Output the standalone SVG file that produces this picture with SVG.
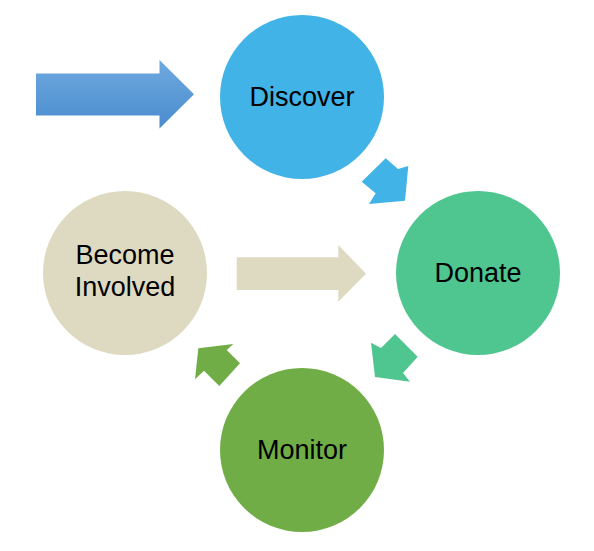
<svg xmlns="http://www.w3.org/2000/svg" width="594" height="551" viewBox="0 0 594 551">
<defs>
<linearGradient id="blueGrad" x1="0" y1="0" x2="0" y2="1">
<stop offset="0" stop-color="#6fa9df"/>
<stop offset="1" stop-color="#4a8ccf"/>
</linearGradient>
</defs>
<style>
.lbl{font-family:"Liberation Sans",Arial,sans-serif;font-size:27px;fill:#000;text-anchor:middle}
</style>
<rect width="594" height="551" fill="#ffffff"/>
<g id="connectors">
<polygon id="entry-arrow" points="36,73.5 159.5,73.5 159.5,60 194,94.3 159.5,128.5 159.5,115.5 36,115.5" fill="url(#blueGrad)"/>
<polygon id="discover-to-donate" points="385.7,158.3 398,169 408.3,166 405,200.7 369,204 375.7,193.3 361.7,181.7" fill="#41b3e6"/>
<polygon id="donate-to-monitor" points="395,334 417.7,356.7 403,373 410,381.7 375,377 371,342.7 381,348" fill="#4fc58f"/>
<polygon id="monitor-to-involved" points="198.3,348.3 233.3,344 226.7,350 240,363.3 219.3,386 204,370.7 195,379.3" fill="#70ad47"/>
<polygon id="involved-arrow" points="236.7,257.3 338.3,257.3 338.3,245 366,273.7 338.3,301.7 338.3,290 236.7,290" fill="#dedac1"/>
</g>
<g id="discover">
<circle cx="302" cy="97" r="82" fill="#41b3e6"/>
<text class="lbl" x="302" y="106">Discover</text>
</g>
<g id="donate">
<circle cx="478" cy="273" r="82" fill="#4fc58f"/>
<text class="lbl" x="478" y="282">Donate</text>
</g>
<g id="monitor">
<circle cx="302" cy="450" r="82" fill="#70ad47"/>
<text class="lbl" x="302" y="458.5">Monitor</text>
</g>
<g id="become-involved">
<circle cx="125" cy="273" r="82" fill="#dedac1"/>
<text class="lbl" x="125" y="263.5">Become</text>
<text class="lbl" x="125" y="295.5">Involved</text>
</g>
</svg>
